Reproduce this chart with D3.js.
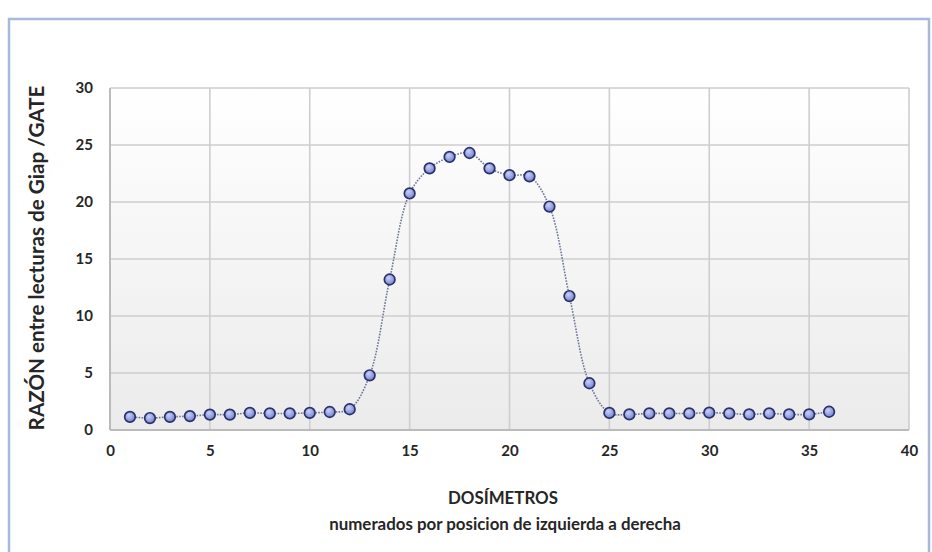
<!DOCTYPE html>
<html>
<head>
<meta charset="utf-8">
<script src="https://cdn.jsdelivr.net/npm/d3@7"></script>
<style>
html,body{margin:0;padding:0;background:#fff;}
svg{display:block;}
</style>
</head>
<body>
<svg id="chart" width="932" height="552"></svg>
<script>
const dosimetros = [1,2,3,4,5,6,7,8,9,10,11,12,13,14,15,16,17,18,19,20,21,22,23,24,25,26,27,28,29,30,31,32,33,34,35,36];
const razon = [1.15,1.05,1.15,1.22,1.35,1.35,1.5,1.45,1.45,1.5,1.58,1.82,4.8,13.2,20.75,22.95,23.95,24.3,22.95,22.35,22.25,19.6,11.75,4.1,1.5,1.37,1.45,1.45,1.45,1.52,1.45,1.37,1.45,1.37,1.37,1.6];
const xTicks = [0,5,10,15,20,25,30,35,40];
const yTicks = [0,5,10,15,20,25,30];
const xTitle = "DOSÍMETROS";
const xSubtitle = "numerados por posicion de izquierda a derecha";
const yTitle = "RAZÓN entre lecturas de Giap /GATE";

const svg = d3.select("#chart");
const font = "Lato, 'Open Sans', sans-serif";

// outer chart border
svg.append("rect").attr("x",9).attr("y",19).attr("width",920).attr("height",560)
  .attr("fill","#fff").attr("stroke","#a6badb").attr("stroke-width",2.5);

const m = {left:110, right:909, top:88, bottom:430};
const x = d3.scaleLinear().domain([0,40]).range([m.left,m.right]);
const y = d3.scaleLinear().domain([0,30]).range([m.bottom,m.top]);

const defs = svg.append("defs");
const bg = defs.append("linearGradient").attr("id","bg").attr("x1",0).attr("y1",0).attr("x2",0).attr("y2",1);
bg.append("stop").attr("offset","0%").attr("stop-color","#ffffff");
bg.append("stop").attr("offset","100%").attr("stop-color","#ebebeb");
const mk = defs.append("radialGradient").attr("id","mk").attr("cx","40%").attr("cy","35%").attr("r","65%");
mk.append("stop").attr("offset","0%").attr("stop-color","#c9d0f7");
mk.append("stop").attr("offset","100%").attr("stop-color","#7783d2");

svg.append("rect").attr("x",m.left).attr("y",m.top).attr("width",m.right-m.left).attr("height",m.bottom-m.top)
  .attr("fill","url(#bg)");

// gridlines
svg.append("g").selectAll("line").data(yTicks).join("line")
  .attr("x1",m.left).attr("x2",m.right).attr("y1",d=>y(d)).attr("y2",d=>y(d))
  .attr("stroke","#cecece").attr("stroke-width",1.6);
svg.append("g").selectAll("line").data(xTicks).join("line")
  .attr("y1",m.top).attr("y2",m.bottom).attr("x1",d=>x(d)).attr("x2",d=>x(d))
  .attr("stroke","#cecece").attr("stroke-width",1.6);
svg.append("line").attr("x1",m.left).attr("x2",m.left).attr("y1",m.top).attr("y2",m.bottom)
  .attr("stroke","#bbbbbb").attr("stroke-width",2);
svg.append("line").attr("x1",m.left).attr("x2",m.right).attr("y1",m.bottom).attr("y2",m.bottom)
  .attr("stroke","#bbbbbb").attr("stroke-width",2);

// axes tick labels
const xAxis = d3.axisBottom(x).tickValues(xTicks).tickSize(0).tickPadding(15);
const gx = svg.append("g").attr("transform",`translate(0,${m.bottom})`).call(xAxis);
gx.select(".domain").remove();
gx.attr("font-size",null);
gx.selectAll("text").attr("font-family",font).attr("font-weight","bold").style("font-size","15px").attr("fill","#262626");

const yAxis = d3.axisLeft(y).tickValues(yTicks).tickSize(0).tickPadding(17);
const gy = svg.append("g").attr("transform",`translate(${m.left},0)`).call(yAxis);
gy.select(".domain").remove();
gy.attr("font-size",null);
gy.selectAll("text").attr("font-family",font).attr("font-weight","bold").style("font-size","15px").attr("fill","#262626");

// line
const data = dosimetros.map((d,i)=>({x:d,y:razon[i]}));
const line = d3.line().x(d=>x(d.x)).y(d=>y(d.y)).curve(d3.curveCatmullRom.alpha(0.5));
svg.append("path").datum(data).attr("d",line).attr("fill","none")
  .attr("stroke","#6d7898").attr("stroke-width",1.6).attr("stroke-dasharray","1.6,1.3");

svg.append("g").selectAll("circle").data(data).join("circle")
  .attr("cx",d=>x(d.x)).attr("cy",d=>y(d.y)).attr("r",5.3)
  .attr("fill","url(#mk)").attr("stroke","#283268").attr("stroke-width",1.7);

// titles, fitted to target widths
function fit(sel, target, base){
  sel.attr("font-size", base);
  const w = sel.node().getComputedTextLength();
  sel.attr("font-size", base*target/w);
}
const t1 = svg.append("text").attr("x",503).attr("y",504).attr("text-anchor","middle")
  .attr("font-family",font).attr("font-weight","bold").attr("fill","#262626").text(xTitle);
fit(t1,110,18);
const t2 = svg.append("text").attr("x",505).attr("y",530).attr("text-anchor","middle")
  .attr("font-family",font).attr("font-weight","bold").attr("fill","#262626").text(xSubtitle);
fit(t2,352,15);
const t3 = svg.append("text").attr("transform",`translate(44,258) rotate(-90)`).attr("text-anchor","middle")
  .attr("font-family",font).attr("font-weight","bold").attr("fill","#262626").text(yTitle);
fit(t3,345,17);
</script>
</body>
</html>
